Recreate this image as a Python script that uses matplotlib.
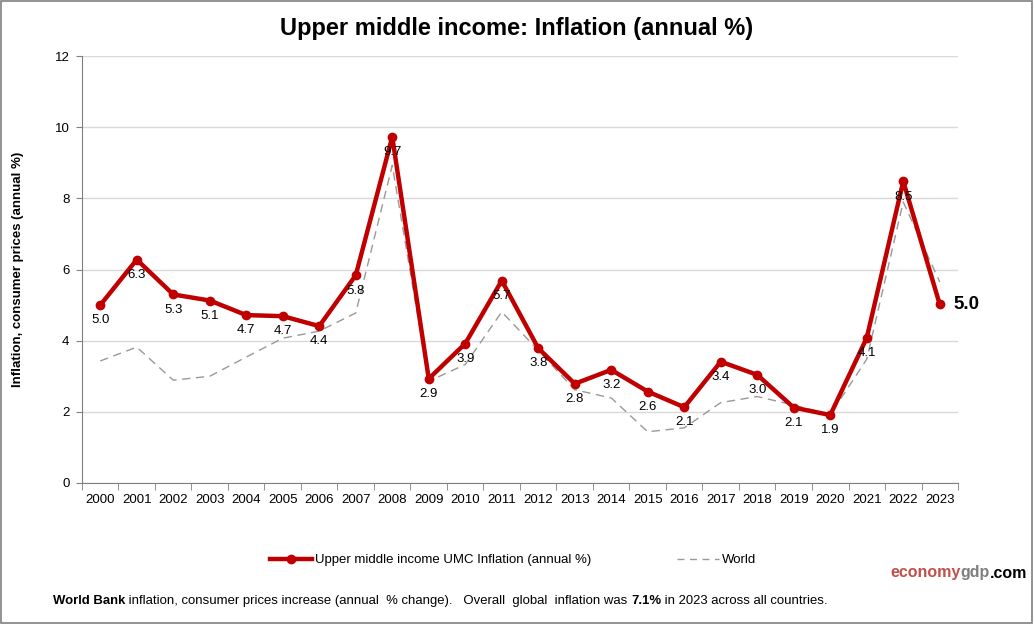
#!/usr/bin/env python3
"""line chart: upper middle income inflation vs world"""
import numpy as np
import matplotlib
matplotlib.use('Agg')
import matplotlib.pyplot as plt
from matplotlib.lines import Line2D
from matplotlib.patches import Rectangle

years = [str(y) for y in range(2000, 2024)]
umc = [5.0, 6.28, 5.3, 5.13, 4.72, 4.69, 4.41, 5.84, 9.73, 2.93, 3.92, 5.69,
       3.79, 2.79, 3.18, 2.57, 2.13, 3.41, 3.04, 2.12, 1.91, 4.08, 8.48, 5.02]
world = [3.43, 3.82, 2.89, 3.0, 3.54, 4.07, 4.27, 4.78, 8.93, 2.86, 3.33, 4.81,
         3.73, 2.62, 2.39, 1.44, 1.55, 2.26, 2.43, 2.19, 1.92, 3.48, 7.9, 5.65]

RED = '#c00000'

plt.rcParams['font.family'] = ['Liberation Sans', 'DejaVu Sans']

fig = plt.figure(figsize=(10.34, 6.24), dpi=100)
ax = fig.add_axes([0.0793, 0.226, 0.8472, 0.684])

x = np.arange(len(years))
ax.plot(x, world, color='#999999', lw=1, ls=(0, (6, 4)), zorder=2)
ax.plot(x, umc, color=RED, lw=3.2, marker='o', ms=6, zorder=3)

for xi, v in zip(x[:-1], umc[:-1]):
    ax.annotate(f'{v:.1f}', (xi, v), xytext=(0, -11), textcoords='offset points',
                ha='center', va='center', fontsize=9.5, color='black', zorder=4)
ax.annotate(f'{umc[-1]:.1f}', (x[-1], umc[-1]), xytext=(10, 0),
            textcoords='offset points', ha='left', va='center',
            fontsize=13.5, fontweight='bold')

ax.set_xlim(-0.5, len(years) - 0.5)
ax.set_ylim(0, 12)
ax.set_yticks(np.arange(0, 13, 2))
ax.set_xticks(x)
ax.set_xticklabels(years)
ax.set_xticks(np.arange(-0.5, len(years), 1), minor=True)
ax.tick_params(axis='x', which='major', length=0, pad=8, labelsize=9.5)
ax.tick_params(axis='x', which='minor', length=5, color='#808080', direction='out')
ax.tick_params(axis='y', length=4, color='#808080', labelsize=9.5, pad=5)
ax.grid(axis='y', color='#d9d9d9', lw=1)
ax.set_axisbelow(True)
for s in ['top', 'right']:
    ax.spines[s].set_visible(False)
for s in ['left', 'bottom']:
    ax.spines[s].set_color('#808080')

ax.set_ylabel('Inflation, consumer prices (annual %)', fontsize=9.5,
              fontweight='bold')
ax.yaxis.set_label_coords(-0.066, 0.5)

fig.text(0.5, 0.955, 'Upper middle income: Inflation (annual %)', ha='center',
         va='center', fontsize=17, fontweight='bold')

handles = [Line2D([], [], color=RED, lw=3.2, marker='o', ms=6),
           Line2D([], [], color='#999999', lw=1, ls=(0, (5, 4)))]
fig.legend(handles, ['Upper middle income UMC Inflation (annual %)', 'World'],
           loc='center', bbox_to_anchor=(0.496, 0.102), ncol=2, frameon=False,
           fontsize=9.5, handlelength=3.2, handletextpad=0.2, columnspacing=6.5)

# site name
fig.canvas.draw()
r = fig.canvas.get_renderer()
xpos = 890
for txt, col in [('economy', '#c0504d'), ('gdp', '#7f7f7f'), ('.com', 'black')]:
    t = fig.text(xpos / 1034, 1 - 573 / 624, txt, color=col, fontsize=11.5,
                 fontweight='bold', va='center', ha='left')
    xpos += t.get_window_extent(r).width

# footer
xpos = 53
for txt, w in [('World Bank', 'bold'),
               (' inflation, consumer prices increase (annual  % change).   '
                'Overall  global  inflation was ', 'normal'),
               ('7.1%', 'bold'),
               (' in 2023 across all countries.', 'normal')]:
    t = fig.text(xpos / 1034, 1 - 601 / 624, txt, fontsize=9.45,
                 fontweight=w, va='center', ha='left')
    xpos += t.get_window_extent(r).width

fig.add_artist(Rectangle((0.001, 0.002), 0.997, 0.996, transform=fig.transFigure,
                         fill=False, edgecolor='#808080', lw=1.2))

fig.savefig('out.png', dpi=100)
